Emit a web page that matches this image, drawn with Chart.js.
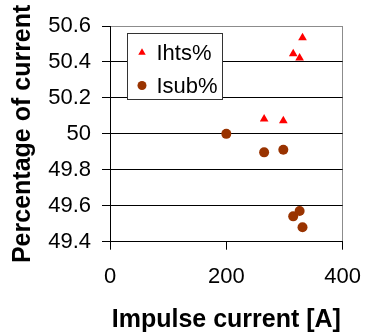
<!DOCTYPE html>
<html>
<head>
<meta charset="utf-8">
<script src="https://cdn.jsdelivr.net/npm/chart.js@4.4.1/dist/chart.umd.min.js"></script>
<style>
  html, body { margin: 0; padding: 0; background: #ffffff; }
  #wrap { width: 375px; height: 335px; position: relative; }
</style>
</head>
<body>
<div id="wrap"><canvas id="c" width="375" height="335"></canvas></div>
<script>
// ---- data ----
const seriesNames = ["Ihts%", "Isub%"];
const ihtsX = [265, 298, 315, 326, 331];
const ihtsY = [50.083, 50.073, 50.446, 50.422, 50.535];
const isubX = [200, 265, 298, 315, 326, 331];
const isubY = [50.0, 49.897, 49.912, 49.541, 49.571, 49.48];
const xTickValues = [0, 200, 400];
const xTickLabels = ["0", "200", "400"];
const yTickValues = [49.4, 49.6, 49.8, 50.0, 50.2, 50.4, 50.6];
const yTickLabels = ["49.4", "49.6", "49.8", "50", "50.2", "50.4", "50.6"];
const xTitle = "Impulse current [A]";
const yTitle = "Percentage of current";

const FONT = "'Liberation Sans', Arial, sans-serif";
const RED = "#FF0000";
const BROWN = "#993300";

function pts(xs, ys) { return xs.map((x, i) => ({ x: x, y: ys[i] })); }

const legendPlugin = {
  id: "boxLegend",
  afterDraw(chart) {
    const ctx = chart.ctx;
    const a = chart.chartArea;
    const bx = a.left + 17.5, by = a.top + 7.5, bw = 95, bh = 66;
    ctx.save();
    ctx.fillStyle = "#ffffff";
    ctx.fillRect(bx, by, bw, bh);
    ctx.strokeStyle = "#333333";
    ctx.lineWidth = 1;
    ctx.strokeRect(bx, by, bw, bh);
    const rows = [by + 19, by + 52];
    chart.data.datasets.forEach((ds, i) => {
      const cy = rows[i];
      const cx = bx + 14.5;
      ctx.fillStyle = ds.backgroundColor;
      ctx.beginPath();
      if (ds.pointStyle === "triangle") {
        const r = 4.3;
        ctx.moveTo(cx, cy - r);
        ctx.lineTo(cx + r * Math.sin(2 * Math.PI / 3), cy + r / 2);
        ctx.lineTo(cx - r * Math.sin(2 * Math.PI / 3), cy + r / 2);
        ctx.closePath();
      } else {
        ctx.arc(cx, cy, 4.5, 0, Math.PI * 2);
      }
      ctx.fill();
      ctx.fillStyle = "#000000";
      ctx.font = "22px " + FONT;
      ctx.textBaseline = "middle";
      ctx.textAlign = "left";
      ctx.fillText(ds.label, bx + 29, cy + 1);
    });
    ctx.restore();
  }
};

new Chart(document.getElementById("c"), {
  type: "scatter",
  data: {
    datasets: [
      {
        label: seriesNames[0],
        data: pts(ihtsX, ihtsY),
        pointStyle: "triangle",
        pointRadius: 5,
        backgroundColor: RED,
        borderColor: RED,
        borderWidth: 0,
        order: 1
      },
      {
        label: seriesNames[1],
        data: pts(isubX, isubY),
        pointStyle: "circle",
        pointRadius: 5,
        backgroundColor: BROWN,
        borderColor: BROWN,
        borderWidth: 0,
        order: 0
      }
    ]
  },
  options: {
    responsive: false,
    animation: false,
    devicePixelRatio: 1,
    layout: { padding: { left: 8, top: 26, right: 19.5, bottom: 0 } },
    plugins: {
      legend: { display: false },
      tooltip: { enabled: false }
    },
    scales: {
      x: {
        type: "linear",
        min: 0,
        max: 400,
        afterBuildTicks(scale) { scale.ticks = xTickValues.map(v => ({ value: v })); },
        afterFit(scale) { scale.height = 93.3; },
        ticks: {
          color: "#000000",
          font: { family: FONT, size: 22 },
          padding: 14,
          maxRotation: 0,
          callback: (v, i) => xTickLabels[i]
        },
        grid: {
          drawOnChartArea: true,
          color: (c) => (c.index === xTickValues.length - 1 ? "#8c8c8c" : "rgba(0,0,0,0)"),
          tickColor: "#000000",
          tickLength: 8,
          lineWidth: 1
        },
        border: { display: true, color: "#000000", width: 1 },
        title: {
          display: true,
          text: xTitle,
          color: "#000000",
          font: { family: FONT, size: 25, weight: "bold" },
          padding: 0
        }
      },
      y: {
        type: "linear",
        min: 49.4,
        max: 50.6,
        afterBuildTicks(scale) { scale.ticks = yTickValues.map(v => ({ value: v })); },
        afterFit(scale) { scale.width = 102; },
        ticks: {
          color: "#000000",
          font: { family: FONT, size: 22 },
          padding: 11,
          callback: (v, i) => yTickLabels[i]
        },
        grid: {
          color: (c) => (c.index === yTickValues.length - 1 ? "#8c8c8c" : "#000000"),
          tickColor: "#000000",
          tickLength: 8,
          lineWidth: 1
        },
        border: { display: true, color: "#000000", width: 1 },
        title: {
          display: true,
          text: yTitle,
          color: "#000000",
          font: { family: FONT, size: 25, weight: "bold" },
          padding: 0
        }
      }
    }
  },
  plugins: [legendPlugin]
});
</script>
</body>
</html>
